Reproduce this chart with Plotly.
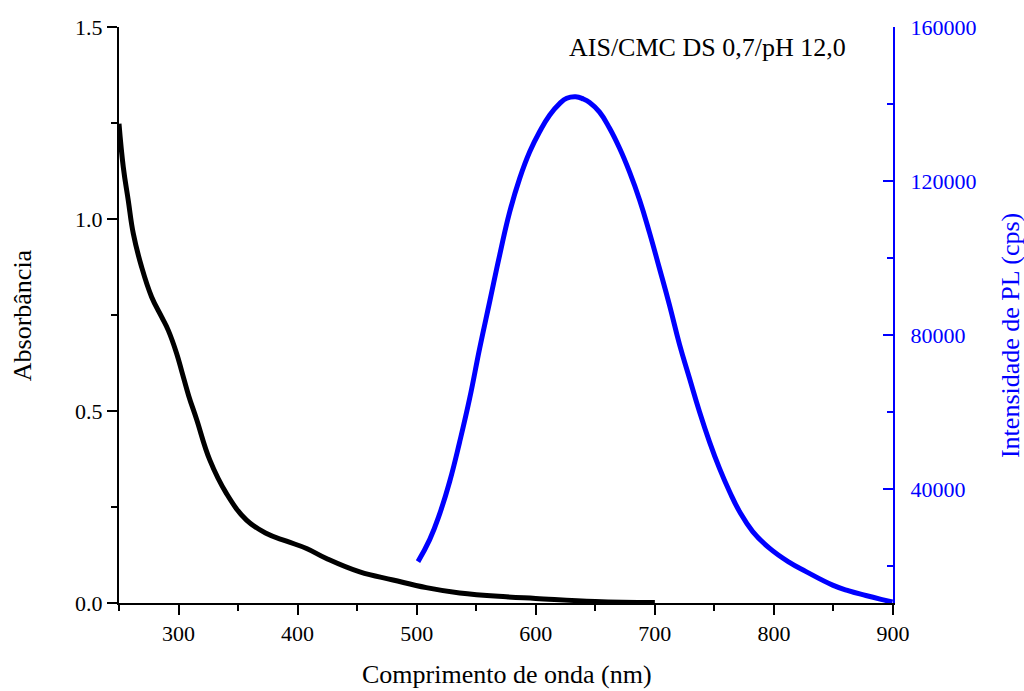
import plotly.graph_objects as go

# Absorbance spectrum (left axis)
abs_nm = [250, 253.6, 257.8, 262, 269, 277.4, 285.8, 291.4, 298.4, 303, 308.5, 315.2, 326.3,
          340.3, 357.1, 373.9, 390.7, 407.5, 424.2, 452.2, 480.1, 508.1, 536.1, 575.2, 600, 650, 700]
abs_val = [1.248, 1.135, 1.048, 0.962, 0.875, 0.797, 0.745, 0.710, 0.650, 0.600, 0.540, 0.478, 0.372,
           0.285, 0.216, 0.181, 0.161, 0.142, 0.116, 0.081, 0.060, 0.040, 0.026, 0.016, 0.012, 0.004, 0.001]

# Photoluminescence spectrum (right axis)
pl_nm = [501.1, 510.9, 519.3, 527.7, 536.1, 544.5, 552.9, 561.3, 569.7, 578.1, 586.5, 594.9,
         603.2, 611.6, 620.0, 626.0, 633.5, 640.0, 645.2, 653.6, 662.0, 670.4, 678.8, 687.2,
         695.5, 703.9, 712.3, 720.7, 729.1, 737.5, 745.9, 754.3, 762.7, 771.1, 782.2, 796.2,
         813.0, 827.0, 849.3, 863.0, 877.2, 890.0, 899.6]
pl_val = [21200, 26900, 33600, 42000, 52300, 63600, 76600, 88700, 100800, 112000, 120700, 127600,
          132800, 137100, 140100, 141500, 141900, 141300, 140400, 137900, 133700, 128500, 122300,
          115100, 106600, 97300, 87800, 77600, 68800, 60100, 52300, 45400, 39400, 34200, 29000,
          24700, 21000, 18600, 15100, 13600, 12400, 11400, 10700]

FONT = "Liberation Serif"
BLUE = "#0000ff"

fig = go.Figure()
fig.add_trace(go.Scatter(x=abs_nm, y=abs_val, mode="lines",
                         line=dict(color="black", width=5, shape="spline", smoothing=1.2),
                         showlegend=False))
fig.add_trace(go.Scatter(x=pl_nm, y=pl_val, mode="lines", yaxis="y2",
                         line=dict(color=BLUE, width=5, shape="spline", smoothing=1.3),
                         showlegend=False))

fig.update_layout(
    width=1024, height=691,
    margin=dict(l=119, r=131, t=27, b=88),
    paper_bgcolor="white", plot_bgcolor="white",
    font=dict(family=FONT, size=22, color="black"),
    xaxis=dict(range=[250, 900], tick0=0, dtick=100, ticks="outside", ticklen=10, tickwidth=2,
               tickcolor="black", showline=True, linecolor="black", linewidth=2,
               showgrid=False, zeroline=False,
               minor=dict(dtick=50, ticks="outside", ticklen=6, tickwidth=2, tickcolor="black",
                          showgrid=False),
               tickfont=dict(family=FONT, size=22, color="black")),
    yaxis=dict(range=[0, 1.5], tick0=0, dtick=0.5, tickformat=".1f", ticks="outside", ticklen=10,
               tickwidth=2, tickcolor="black", showline=True, linecolor="black", linewidth=2,
               showgrid=False, zeroline=False,
               minor=dict(dtick=0.25, ticks="outside", ticklen=6, tickwidth=2, tickcolor="black",
                          showgrid=False),
               tickfont=dict(family=FONT, size=22, color="black")),
    yaxis2=dict(range=[10450, 160000], overlaying="y", side="right", tick0=0, dtick=40000,
                tickformat="d", ticks="inside", ticklen=10, tickwidth=2, tickcolor=BLUE,
                showline=True, linecolor=BLUE, linewidth=2, showgrid=False, zeroline=False,
                ticklabelstandoff=11,
                minor=dict(dtick=20000, ticks="inside", ticklen=6, tickwidth=2, tickcolor=BLUE,
                           showgrid=False),
                tickfont=dict(family=FONT, size=22, color=BLUE)),
    annotations=[
        dict(text="Comprimento de onda (nm)", xref="paper", yref="paper", x=0.501, y=-0.124,
             xanchor="center", yanchor="middle", showarrow=False,
             font=dict(family=FONT, size=26, color="black")),
        dict(text="Absorbância", xref="paper", yref="paper", x=-0.125, y=0.5, textangle=-90,
             xanchor="center", yanchor="middle", showarrow=False,
             font=dict(family=FONT, size=26, color="black")),
        dict(text="Intensidade de PL (cps)", xref="paper", yref="paper", x=1.151, y=0.465,
             textangle=-90, xanchor="center", yanchor="middle", showarrow=False,
             font=dict(family=FONT, size=26, color=BLUE)),
        dict(text="AIS/CMC DS 0,7/pH 12,0", xref="paper", yref="paper", x=0.76, y=0.965,
             xanchor="center", yanchor="middle", showarrow=False,
             font=dict(family=FONT, size=26, color="black")),
    ],
)

fig.write_html("out.html")
